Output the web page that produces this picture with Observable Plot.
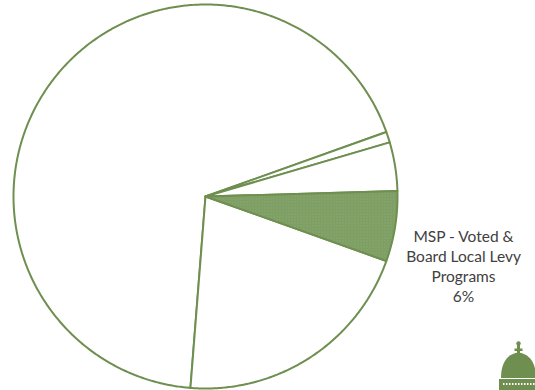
<!DOCTYPE html>
<html>
<head>
<meta charset="utf-8">
<script src="https://cdn.jsdelivr.net/npm/d3@7"></script>
<script src="https://cdn.jsdelivr.net/npm/@observablehq/plot@0.6"></script>
<style>
  html, body { margin: 0; padding: 0; background: #fff; }
  #chart { position: relative; width: 535px; height: 390px; overflow: hidden; }
</style>
</head>
<body>
<div id="chart"></div>
<script>
// ---- data ----
const categories = [
  "MSP - Basic School Program",
  "Capital Outlay Programs",
  "Other State Programs",
  "MSP - Voted & Board Local Levy Programs",
  "MSP - Related to Basic Programs"
];
const values = [68.3, 0.9, 4.1, 5.9, 20.8];
const highlighted = ["MSP - Voted & Board Local Levy Programs"];
const labelLines = ["MSP - Voted &", "Board Local Levy", "Programs"];
const firstSliceAngle = 184.5; // degrees, clockwise from 12 o'clock

// ---- geometry ----
const total = d3.sum(values);
const rad = d => d * Math.PI / 180;
const pie = d3.pie().sort(null).value(d => d.value)
  .startAngle(rad(firstSliceAngle)).endAngle(rad(firstSliceAngle + 360));
const arcs = pie(categories.map((c, i) => ({category: c, value: values[i]})));

const pts = [];
for (const a of arcs) {
  const key = a.data.category;
  pts.push({key, x: 0, y: 0});
  const n = Math.max(2, Math.ceil((a.endAngle - a.startAngle) / rad(0.5)));
  for (let k = 0; k <= n; k++) {
    const t = a.startAngle + (a.endAngle - a.startAngle) * k / n;
    pts.push({key, x: Math.sin(t), y: Math.cos(t)});
  }
}
const isHi = d => highlighted.includes(d.key);

const labels = arcs.filter(a => highlighted.includes(a.data.category)).map(a => {
  const mid = (a.startAngle + a.endAngle) / 2 + rad(6.6);
  return {
    x: 1.39 * Math.sin(mid),
    y: 1.39 * Math.cos(mid),
    text: labelLines.join("\n") + "\n" + Math.round(a.data.value / total * 100) + "%"
  };
});

const R = 192, cx = 205, cy = 196;
const green = "#6e8f4f";

const plot = Plot.plot({
  width: 535,
  height: 390,
  margin: 0,
  x: {domain: [-1, 1], range: [cx - R, cx + R], axis: null},
  y: {domain: [-1, 1], range: [cy + R, cy - R], axis: null},
  style: {background: "transparent", fontFamily: "Lato, 'Noto Sans', sans-serif"},
  marks: [
    Plot.line(pts.filter(d => !isHi(d)), {
      x: "x", y: "y", z: "key", curve: "linear-closed",
      fill: "white", stroke: green, strokeWidth: 2, strokeLinejoin: "round"
    }),
    Plot.line(pts.filter(isHi), {
      x: "x", y: "y", z: "key", curve: "linear-closed",
      fill: "url(#mspPattern)", stroke: green, strokeWidth: 2, strokeLinejoin: "round"
    }),
    Plot.text(labels, {
      x: "x", y: "y", text: "text", fontSize: 15.5, lineHeight: 1.29, dy: -3, dx: 1,
      fill: "#404040", textAnchor: "middle", frameAnchor: "middle"
    })
  ]
});

// pattern definition for the highlighted slice
const ns = "http://www.w3.org/2000/svg";
const defs = document.createElementNS(ns, "defs");
defs.innerHTML = `
  <pattern id="mspPattern" width="3" height="3" patternUnits="userSpaceOnUse">
    <rect width="3" height="3" fill="#779a5e"/>
    <rect x="0" y="0" width="1" height="1" fill="#9db887"/>
    <rect x="1.5" y="1.5" width="1" height="1" fill="#9db887"/>
  </pattern>`;
plot.insertBefore(defs, plot.firstChild);

// decorative capitol dome logo (bottom-right corner)
const logo = document.createElementNS(ns, "g");
logo.innerHTML = `
  <circle cx="518.5" cy="343.5" r="2.2" fill="${green}"/>
  <rect x="517" y="344" width="3" height="10" fill="${green}"/>
  <rect x="514.5" y="348.5" width="8" height="2.5" fill="${green}"/>
  <path d="M501,378 C501,361 509,353.5 518.5,352.5 C528,353.5 536,361 536,378 Z" fill="${green}"/>
  <rect x="499" y="379" width="40" height="11" fill="${green}"/>
  <path d="M503,384 L536,384" stroke="white" stroke-width="2" stroke-dasharray="1.5 1.5"/>
`;
plot.appendChild(logo);

document.getElementById("chart").appendChild(plot);
</script>
</body>
</html>
